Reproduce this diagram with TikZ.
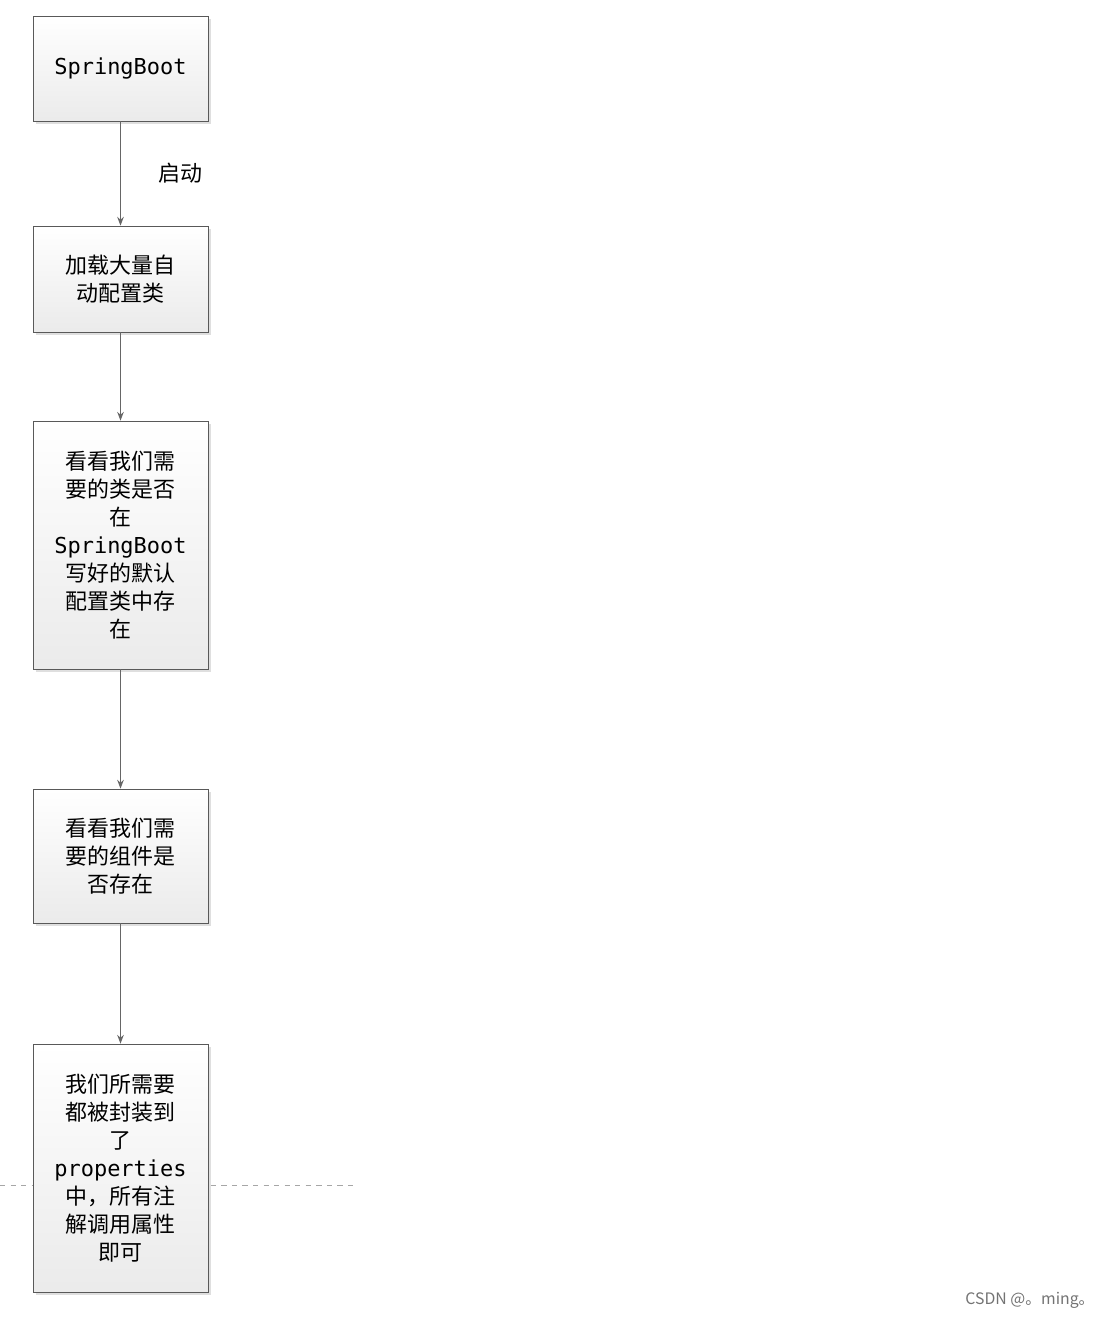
\documentclass[tikz,border=0pt]{standalone}
\usepackage{fontspec}
\setmainfont{Noto Sans CJK SC}
\newfontfamily\monofont{DejaVu Sans Mono}
\usetikzlibrary{shadows,arrows.meta}
\tikzset{
	stepbox/.style = {draw=black!65, top color=white, bottom color=black!8, drop shadow={shadow xshift=1.5pt, shadow yshift=-1.5pt, fill=black!25},
		minimum width=3.5cm, align=center, font=\fontsize{12.5}{16}\selectfont, inner sep=0pt},
	flow/.style = {draw=black!60, thick, -{Stealth[length=5pt]}}
}
\begin{document}
\begin{tikzpicture}[x=0.02cm, y=-0.02cm]
	\useasboundingbox (0,0) rectangle (1104,1319);
	\draw[black!35, dashed] (0,1185) -- (355,1185);
	\node[stepbox, minimum height=2.1cm] (boot) at (120.5,68.5) {{\monofont SpringBoot}};
	\node[stepbox, minimum height=2.12cm] (load) at (120.5,279) {加载大量自\\动配置类};
	\node[stepbox, minimum height=4.96cm] (check) at (120.5,545) {看看我们需\\要的类是否\\在\\{\monofont SpringBoot}\\写好的默认\\配置类中存\\在};
	\node[stepbox, minimum height=2.68cm] (comp) at (120.5,856) {看看我们需\\要的组件是\\否存在};
	\node[stepbox, minimum height=4.96cm] (prop) at (120.5,1168) {我们所需要\\都被封装到\\了\\{\monofont properties}\\中，所有注\\解调用属性\\即可};
	\draw[flow] (boot) -- node[right=18pt, font=\fontsize{12.5}{16}\selectfont] {启动} (load);
	\draw[flow] (load) -- (check);
	\draw[flow] (check) -- (comp);
	\draw[flow] (comp) -- (prop);
	\node[black!55, font=\fontsize{9}{11}\selectfont] (mark) at (1030,1300) {CSDN @。ming。};
\end{tikzpicture}
\end{document}
